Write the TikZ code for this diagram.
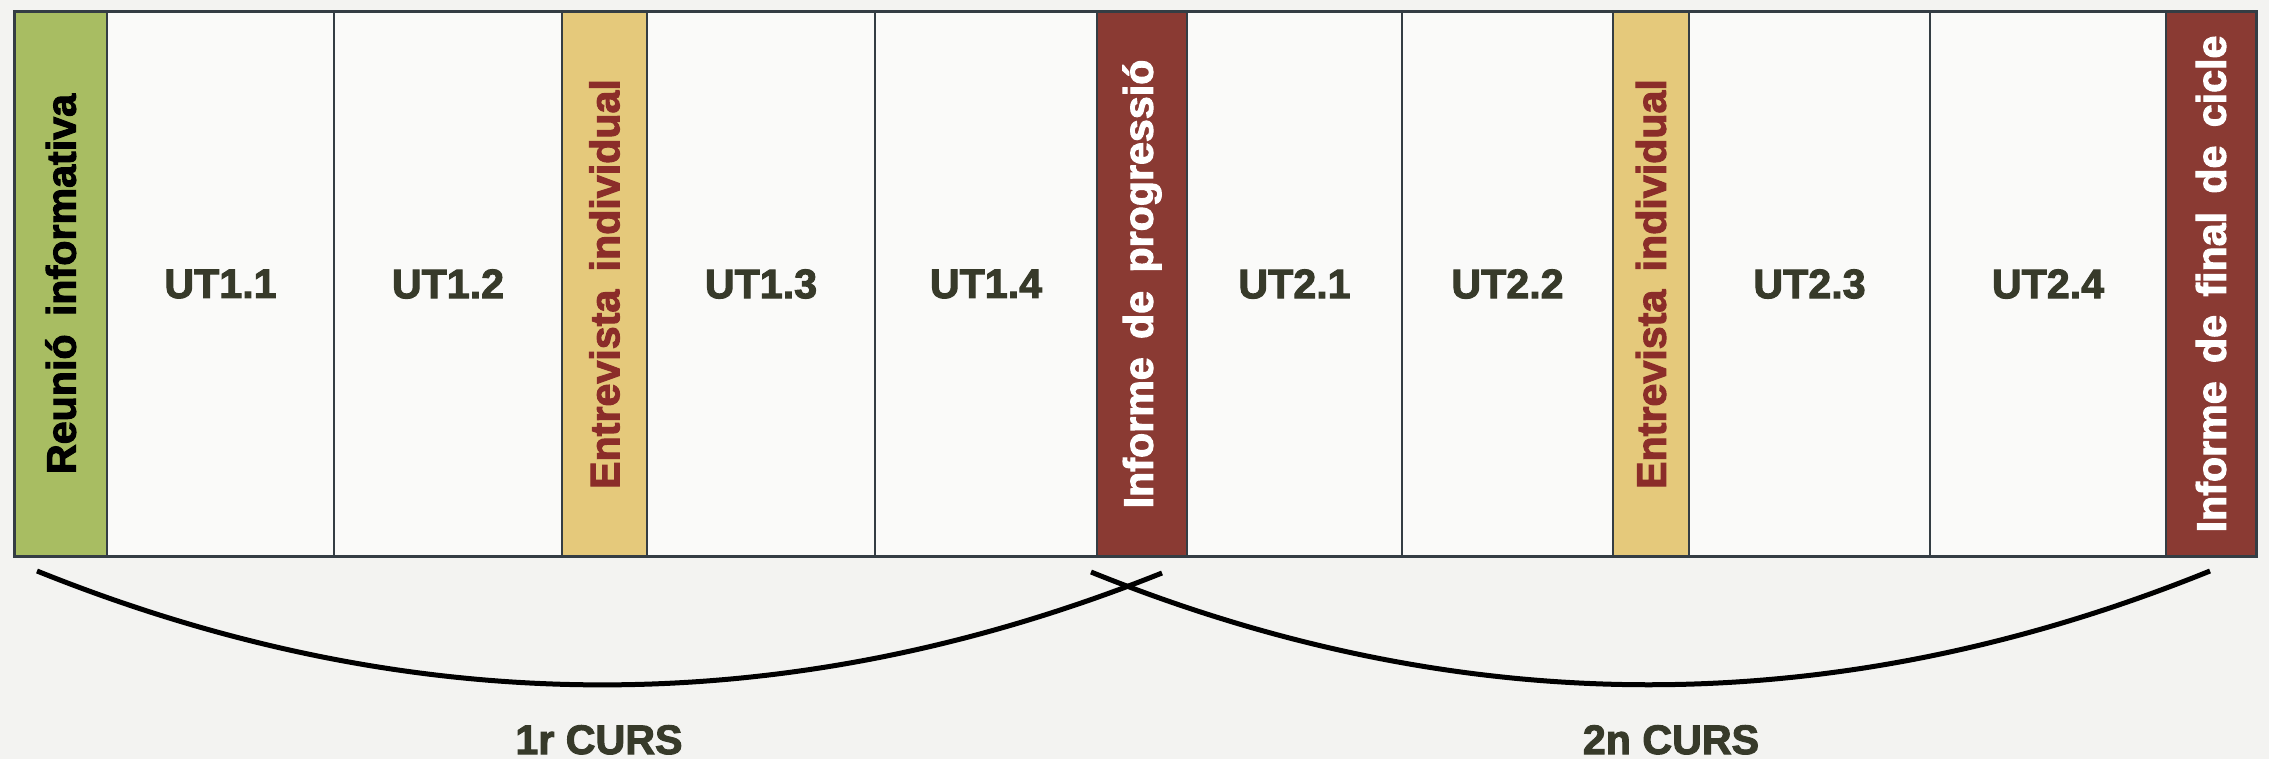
\documentclass[tikz,border=0pt]{standalone}
\usepackage{fontspec}
\setmainfont{Liberation Sans}
\newfontfamily\heavyfont{Liberation Sans Bold}[FakeBold=2.5]
\newcommand{\vtext}[1]{\rotatebox{90}{\spaceskip=1.6\fontdimen2\font\relax #1}}
\definecolor{bgpaper}{HTML}{F3F3F1}
\definecolor{colwhite}{HTML}{FAFAF9}
\definecolor{bordercol}{HTML}{343D44}
\definecolor{greencol}{HTML}{A8BD62}
\definecolor{yellowcol}{HTML}{E5C97B}
\definecolor{redcol}{HTML}{8A3A33}
\definecolor{redtext}{HTML}{8B2D29}
\definecolor{uttext}{HTML}{373A2A}
\begin{document}
\begin{tikzpicture}[x=0.5pt,y=-0.5pt,
  colbox/.style={rectangle, draw=bordercol, line width=1pt, inner sep=0pt, outer sep=0pt,
     minimum height=272pt, fill=colwhite,
     font=\heavyfont\fontsize{20.6pt}{24pt}\selectfont, text=uttext},
  greenbox/.style={colbox, fill=greencol, text=black},
  yellowbox/.style={colbox, fill=yellowcol, text=redtext},
  redbox/.style={colbox, fill=redcol, text=white},
  arcline/.style={line width=2.5pt, black},
  curslabel/.style={font=\heavyfont\fontsize{20.6pt}{24pt}\selectfont, text=uttext, anchor=base, inner sep=0pt}
]
\fill[bgpaper] (0,0) rectangle (2269,759);
\useasboundingbox (0,0) rectangle (2269,759);

\node[greenbox, minimum width=46.25pt] (c1) at (60.75,284) {\vtext{Reunió informativa}};
\node[colbox, minimum width=113.5pt] (c2) at (220.5,284) {UT1.1};
\node[colbox, minimum width=114pt] (c3) at (448,284) {UT1.2};
\node[yellowbox, minimum width=42.5pt] (c4) at (604.5,284) {\vtext{Entrevista individual}};
\node[colbox, minimum width=114pt] (c5) at (761,284) {UT1.3};
\node[colbox, minimum width=111pt] (c6) at (986,284) {UT1.4};
\node[redbox, minimum width=45pt] (c7) at (1142,284) {\vtext{Informe de progressió}};
\node[colbox, minimum width=107.5pt] (c8) at (1294.5,284) {UT2.1};
\node[colbox, minimum width=105.5pt] (c9) at (1507.5,284) {UT2.2};
\node[yellowbox, minimum width=38pt] (c10) at (1651,284) {\vtext{Entrevista individual}};
\node[colbox, minimum width=120.5pt] (c11) at (1809.5,284) {UT2.3};
\node[colbox, minimum width=118pt] (c12) at (2048,284) {UT2.4};
\node[redbox, minimum width=45pt] (c13) at (2211,284) {\vtext{Informe de final de cicle}};

\draw[bordercol, line width=1.5pt] (c1.north west) rectangle (c13.south east);

\coordinate (a1s) at (37,571);
\coordinate (a1e) at (1162,573);
\coordinate (a2s) at (1091,572);
\coordinate (a2e) at (2210,571);
\draw[arcline] (a1s) .. controls (412,722) and (787,723) .. (a1e);
\draw[arcline] (a2s) .. controls (1464,723) and (1837,722) .. (a2e);

\node[curslabel] (l1) at (599,754) {1r CURS};
\node[curslabel] (l2) at (1671,754) {2n CURS};
\end{tikzpicture}
\end{document}
